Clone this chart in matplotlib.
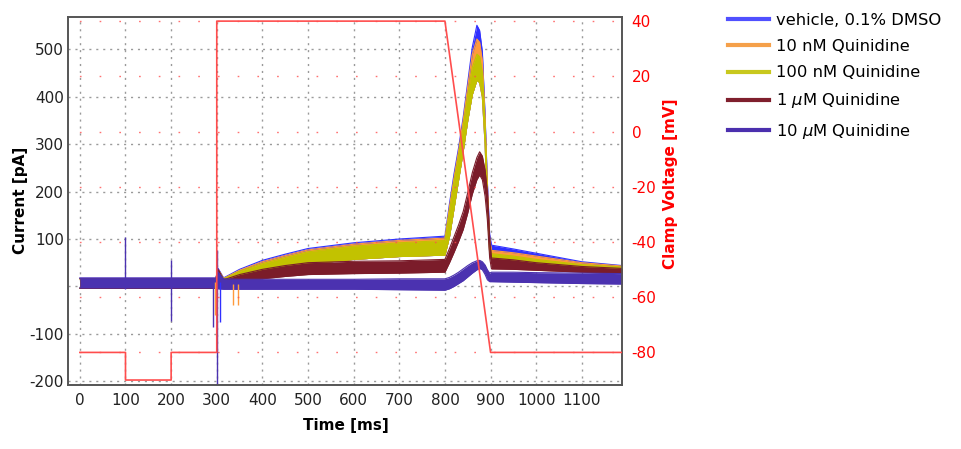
import numpy as np
import matplotlib
matplotlib.use('Agg')
import matplotlib.pyplot as plt
from matplotlib.lines import Line2D

plt.rcParams['font.family'] = ['DejaVu Sans']
plt.rcParams['axes.unicode_minus'] = False

# Shared time grid [ms] for the current envelopes
t_ms = [0, 298, 303, 315, 350, 400, 450, 500, 600, 700, 800, 810, 820, 830, 840,
        850, 860, 870, 876, 882, 888, 893, 898, 902, 950, 1000, 1100, 1188]

# Upper / lower edges of each noisy current trace [pA]
vehicle_hi = [18, 18, 38, 18, 36, 55, 68, 80, 92, 100, 106, 175, 238, 293, 357,
              431, 505, 551, 540, 495, 361, 220, 110, 87, 79, 70, 52, 44]
nm10_hi = [17, 17, 36, 17, 34, 52, 65, 77, 89, 97, 102, 168, 230, 286, 350,
           422, 490, 522, 515, 475, 350, 210, 100, 76, 71, 64, 50, 43]
nm100_hi = [16, 16, 34, 16, 32, 48, 61, 73, 85, 92, 97, 160, 222, 278, 340,
            405, 462, 490, 485, 450, 335, 195, 90, 69, 64, 57, 46, 41]
nm100_lo = [-4, -4, 5, 0, 14, 27, 38, 47, 57, 63, 66, 105, 165, 225, 285,
            350, 405, 435, 430, 400, 300, 165, 70, 57, 53, 48, 40, 36]
um1_hi = [16, 16, 36, 14, 25, 36, 44, 50, 53, 54, 57, 80, 105, 130, 158,
          198, 240, 272, 284, 275, 245, 200, 100, 60, 56, 50, 42, 38]
um1_lo = [-4, -4, 5, 0, 8, 16, 21, 25, 27, 28, 30, 50, 72, 95, 120,
          155, 195, 225, 235, 225, 190, 140, 60, 37, 36, 34, 30, 27]
um10_hi = [17, 17, 30, 16, 15, 15, 15, 15, 15, 16, 16, 19, 24, 30, 37,
           44, 50, 54, 55, 52, 45, 35, 28, 30, 30, 29, 28, 27]
um10_lo = [-3, -3, -5, -6, -6, -6, -6, -6, -6, -7, -8, -5, 0, 6, 12,
           20, 28, 35, 38, 35, 25, 14, 10, 10, 9, 8, 6, 5]

# Capacitive / artefact spikes: time, low, high, series index
spike_t = [100, 200, 292, 296, 300, 307, 336, 347]
spike_lo = [-5, -72, -86, -60, -215, -75, -40, -40]
spike_hi = [104, 55, 10, 10, 76, 10, 5, 5]
spike_series = [4, 4, 4, 1, 4, 0, 1, 1]

# Voltage protocol
volt_t = [0, 100, 100, 200, 200, 300, 300, 800, 900, 1188]
volt_mv = [-80, -80, -90, -90, -80, -80, 40, 40, -80, -80]

labels = ['vehicle, 0.1% DMSO', '10 nM Quinidine', '100 nM Quinidine',
          r'1 $\mu$M Quinidine', r'10 $\mu$M Quinidine']
colors = ['#3030ff', '#ff9a3c', '#c2c200', '#7b1c2a', '#4b32b0']
legend_colors = ['#5050ff', '#f5a04a', '#c8c81e', '#7f1f2d', '#4b2fae']
volt_color = '#ff4d4d'

bands = [(vehicle_hi, nm100_lo), (nm10_hi, nm100_lo), (nm100_hi, nm100_lo),
         (um1_hi, um1_lo), (um10_hi, um10_lo)]

fig = plt.figure(figsize=(9.61, 4.49), dpi=100)
ax = fig.add_axes([68 / 961, 1 - 385 / 449, (622 - 68) / 961, (385 - 16.7) / 449])

t = np.array(t_ms)
for i, (hi, lo) in enumerate(bands):
    ax.fill_between(t, lo, hi, color=colors[i], lw=0, zorder=2 + i)
    ax.plot(t, hi, color=colors[i], lw=0.8, zorder=2 + i)
    ax.plot(t, lo, color=colors[i], lw=0.8, zorder=2 + i)

for st, lo, hi, s in zip(spike_t, spike_lo, spike_hi, spike_series):
    ax.vlines(st, lo, hi, color=colors[s], lw=1, zorder=8)

ax.set_xlim(-26, 1188)
ax.set_ylim(-208, 569)
ax.set_xticks(range(0, 1200, 100))
yt = list(range(-200, 600, 100))
ax.set_yticks(yt)
ax.set_yticklabels(['' if v == 0 else str(v) for v in yt])
ax.set_axisbelow(True)
ax.grid(True, color='#9a9a9a', linestyle=(0, (1.5, 3.5)), lw=1)
ax.tick_params(axis='both', length=0, labelsize=11, colors='#222222')
ax.tick_params(axis='y', pad=3)
ax.tick_params(axis='x', pad=6)
ax.set_xlabel('Time [ms]', fontsize=11, fontweight='bold')
ax.set_ylabel('Current [pA]', fontsize=11, fontweight='bold')
ax.xaxis.set_label_coords(0.502, -0.09)
ax.yaxis.set_label_coords(-0.072, 0.5)

ax2 = ax.twinx()
ax2.plot(volt_t, volt_mv, color=volt_color, lw=1.2, zorder=10)
ax2.set_ylim(-91.8, 41.6)
ax2.set_yticks(range(-80, 41, 20))
ax2.grid(True, axis='y', color=volt_color, linestyle=(6, (1.2, 13)), lw=1, alpha=0.8)
ax2.tick_params(axis='y', length=0, labelsize=11, labelcolor='red', pad=7)
ax2.set_ylabel('Clamp Voltage [mV]', fontsize=11, fontweight='bold', color='red')
ax2.yaxis.set_label_coords(1.074, 0.546)

for a in (ax, ax2):
    for sp in a.spines.values():
        sp.set_color('#555555')
        sp.set_linewidth(1.2)

handles = [Line2D([], [], color=c, lw=3) for c in legend_colors]
fig.legend(handles, labels, loc='upper left', bbox_to_anchor=(728 / 961, 1 - 13 / 449),
           frameon=False, borderpad=0, borderaxespad=0, handlelength=2.5,
           handletextpad=0.45, fontsize=11.8, labelspacing=0.68)

fig.savefig('out.png', dpi=100)
